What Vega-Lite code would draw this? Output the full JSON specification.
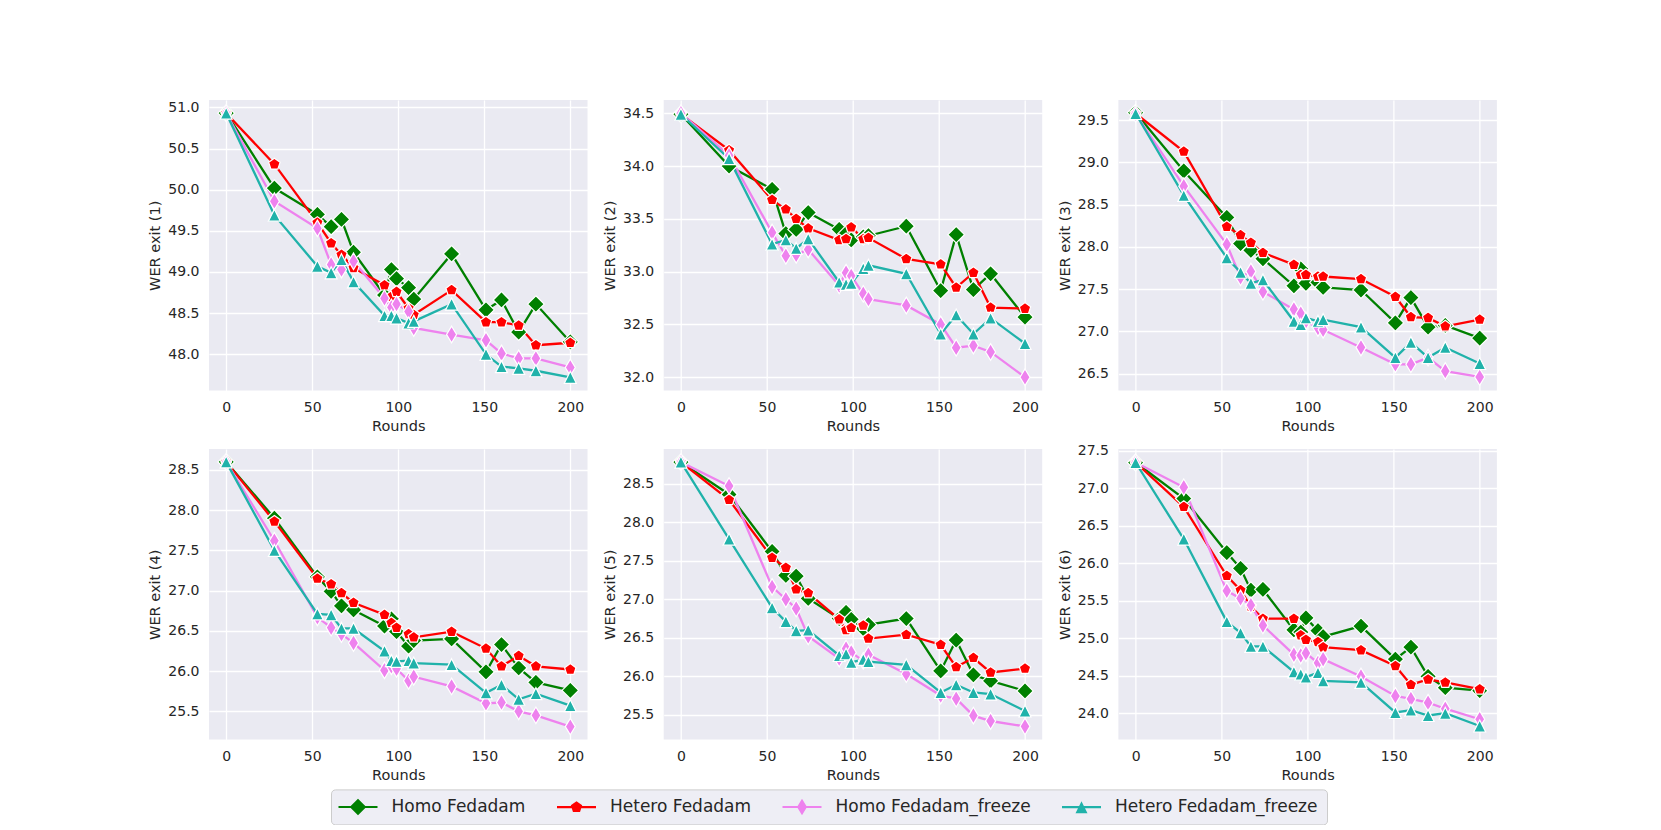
{
"$schema": "https://vega.github.io/schema/vega-lite/v6.json",
"padding": {"left": 147, "top": 100, "right": 0, "bottom": 0},
"background": "white",
"datasets": {"d": [
{"exit":1,"series":"Homo Fedadam","round":0,"wer":50.93},{"exit":1,"series":"Homo Fedadam","round":28,"wer":50.02},{"exit":1,"series":"Homo Fedadam","round":53,"wer":49.70},{"exit":1,"series":"Homo Fedadam","round":61,"wer":49.55},{"exit":1,"series":"Homo Fedadam","round":67,"wer":49.64},{"exit":1,"series":"Homo Fedadam","round":74,"wer":49.24},{"exit":1,"series":"Homo Fedadam","round":92,"wer":48.72},{"exit":1,"series":"Homo Fedadam","round":96,"wer":49.03},{"exit":1,"series":"Homo Fedadam","round":99,"wer":48.92},{"exit":1,"series":"Homo Fedadam","round":106,"wer":48.81},{"exit":1,"series":"Homo Fedadam","round":109,"wer":48.67},{"exit":1,"series":"Homo Fedadam","round":131,"wer":49.22},{"exit":1,"series":"Homo Fedadam","round":151,"wer":48.54},{"exit":1,"series":"Homo Fedadam","round":160,"wer":48.66},{"exit":1,"series":"Homo Fedadam","round":170,"wer":48.27},{"exit":1,"series":"Homo Fedadam","round":180,"wer":48.61},{"exit":1,"series":"Homo Fedadam","round":200,"wer":48.15},
{"exit":1,"series":"Hetero Fedadam","round":0,"wer":50.93},{"exit":1,"series":"Hetero Fedadam","round":28,"wer":50.31},{"exit":1,"series":"Hetero Fedadam","round":53,"wer":49.60},{"exit":1,"series":"Hetero Fedadam","round":61,"wer":49.35},{"exit":1,"series":"Hetero Fedadam","round":67,"wer":49.21},{"exit":1,"series":"Hetero Fedadam","round":74,"wer":49.05},{"exit":1,"series":"Hetero Fedadam","round":92,"wer":48.84},{"exit":1,"series":"Hetero Fedadam","round":96,"wer":48.70},{"exit":1,"series":"Hetero Fedadam","round":99,"wer":48.76},{"exit":1,"series":"Hetero Fedadam","round":106,"wer":48.56},{"exit":1,"series":"Hetero Fedadam","round":109,"wer":48.48},{"exit":1,"series":"Hetero Fedadam","round":131,"wer":48.78},{"exit":1,"series":"Hetero Fedadam","round":151,"wer":48.39},{"exit":1,"series":"Hetero Fedadam","round":160,"wer":48.39},{"exit":1,"series":"Hetero Fedadam","round":170,"wer":48.35},{"exit":1,"series":"Hetero Fedadam","round":180,"wer":48.11},{"exit":1,"series":"Hetero Fedadam","round":200,"wer":48.14},
{"exit":1,"series":"Homo Fedadam_freeze","round":0,"wer":50.93},{"exit":1,"series":"Homo Fedadam_freeze","round":28,"wer":49.86},{"exit":1,"series":"Homo Fedadam_freeze","round":53,"wer":49.53},{"exit":1,"series":"Homo Fedadam_freeze","round":61,"wer":49.09},{"exit":1,"series":"Homo Fedadam_freeze","round":67,"wer":49.03},{"exit":1,"series":"Homo Fedadam_freeze","round":74,"wer":49.13},{"exit":1,"series":"Homo Fedadam_freeze","round":92,"wer":48.68},{"exit":1,"series":"Homo Fedadam_freeze","round":96,"wer":48.57},{"exit":1,"series":"Homo Fedadam_freeze","round":99,"wer":48.61},{"exit":1,"series":"Homo Fedadam_freeze","round":106,"wer":48.52},{"exit":1,"series":"Homo Fedadam_freeze","round":109,"wer":48.32},{"exit":1,"series":"Homo Fedadam_freeze","round":131,"wer":48.24},{"exit":1,"series":"Homo Fedadam_freeze","round":151,"wer":48.17},{"exit":1,"series":"Homo Fedadam_freeze","round":160,"wer":48.01},{"exit":1,"series":"Homo Fedadam_freeze","round":170,"wer":47.95},{"exit":1,"series":"Homo Fedadam_freeze","round":180,"wer":47.95},{"exit":1,"series":"Homo Fedadam_freeze","round":200,"wer":47.84},
{"exit":1,"series":"Hetero Fedadam_freeze","round":0,"wer":50.93},{"exit":1,"series":"Hetero Fedadam_freeze","round":28,"wer":49.69},{"exit":1,"series":"Hetero Fedadam_freeze","round":53,"wer":49.07},{"exit":1,"series":"Hetero Fedadam_freeze","round":61,"wer":48.99},{"exit":1,"series":"Hetero Fedadam_freeze","round":67,"wer":49.15},{"exit":1,"series":"Hetero Fedadam_freeze","round":74,"wer":48.88},{"exit":1,"series":"Hetero Fedadam_freeze","round":92,"wer":48.47},{"exit":1,"series":"Hetero Fedadam_freeze","round":96,"wer":48.47},{"exit":1,"series":"Hetero Fedadam_freeze","round":99,"wer":48.44},{"exit":1,"series":"Hetero Fedadam_freeze","round":106,"wer":48.38},{"exit":1,"series":"Hetero Fedadam_freeze","round":109,"wer":48.40},{"exit":1,"series":"Hetero Fedadam_freeze","round":131,"wer":48.61},{"exit":1,"series":"Hetero Fedadam_freeze","round":151,"wer":48.00},{"exit":1,"series":"Hetero Fedadam_freeze","round":160,"wer":47.85},{"exit":1,"series":"Hetero Fedadam_freeze","round":170,"wer":47.83},{"exit":1,"series":"Hetero Fedadam_freeze","round":180,"wer":47.80},{"exit":1,"series":"Hetero Fedadam_freeze","round":200,"wer":47.72},

{"exit":2,"series":"Homo Fedadam","round":0,"wer":34.49},{"exit":2,"series":"Homo Fedadam","round":28,"wer":34.00},{"exit":2,"series":"Homo Fedadam","round":53,"wer":33.78},{"exit":2,"series":"Homo Fedadam","round":61,"wer":33.36},{"exit":2,"series":"Homo Fedadam","round":67,"wer":33.40},{"exit":2,"series":"Homo Fedadam","round":74,"wer":33.56},{"exit":2,"series":"Homo Fedadam","round":92,"wer":33.40},{"exit":2,"series":"Homo Fedadam","round":96,"wer":33.36},{"exit":2,"series":"Homo Fedadam","round":99,"wer":33.30},{"exit":2,"series":"Homo Fedadam","round":106,"wer":33.33},{"exit":2,"series":"Homo Fedadam","round":109,"wer":33.34},{"exit":2,"series":"Homo Fedadam","round":131,"wer":33.43},{"exit":2,"series":"Homo Fedadam","round":151,"wer":32.82},{"exit":2,"series":"Homo Fedadam","round":160,"wer":33.35},{"exit":2,"series":"Homo Fedadam","round":170,"wer":32.83},{"exit":2,"series":"Homo Fedadam","round":180,"wer":32.98},{"exit":2,"series":"Homo Fedadam","round":200,"wer":32.57},
{"exit":2,"series":"Hetero Fedadam","round":0,"wer":34.49},{"exit":2,"series":"Hetero Fedadam","round":28,"wer":34.15},{"exit":2,"series":"Hetero Fedadam","round":53,"wer":33.68},{"exit":2,"series":"Hetero Fedadam","round":61,"wer":33.59},{"exit":2,"series":"Hetero Fedadam","round":67,"wer":33.50},{"exit":2,"series":"Hetero Fedadam","round":74,"wer":33.41},{"exit":2,"series":"Hetero Fedadam","round":92,"wer":33.30},{"exit":2,"series":"Hetero Fedadam","round":96,"wer":33.31},{"exit":2,"series":"Hetero Fedadam","round":99,"wer":33.42},{"exit":2,"series":"Hetero Fedadam","round":106,"wer":33.31},{"exit":2,"series":"Hetero Fedadam","round":109,"wer":33.32},{"exit":2,"series":"Hetero Fedadam","round":131,"wer":33.12},{"exit":2,"series":"Hetero Fedadam","round":151,"wer":33.07},{"exit":2,"series":"Hetero Fedadam","round":160,"wer":32.85},{"exit":2,"series":"Hetero Fedadam","round":170,"wer":32.99},{"exit":2,"series":"Hetero Fedadam","round":180,"wer":32.66},{"exit":2,"series":"Hetero Fedadam","round":200,"wer":32.65},
{"exit":2,"series":"Homo Fedadam_freeze","round":0,"wer":34.50},{"exit":2,"series":"Homo Fedadam_freeze","round":28,"wer":34.10},{"exit":2,"series":"Homo Fedadam_freeze","round":53,"wer":33.37},{"exit":2,"series":"Homo Fedadam_freeze","round":61,"wer":33.15},{"exit":2,"series":"Homo Fedadam_freeze","round":67,"wer":33.16},{"exit":2,"series":"Homo Fedadam_freeze","round":74,"wer":33.21},{"exit":2,"series":"Homo Fedadam_freeze","round":92,"wer":32.87},{"exit":2,"series":"Homo Fedadam_freeze","round":96,"wer":32.99},{"exit":2,"series":"Homo Fedadam_freeze","round":99,"wer":32.96},{"exit":2,"series":"Homo Fedadam_freeze","round":106,"wer":32.79},{"exit":2,"series":"Homo Fedadam_freeze","round":109,"wer":32.74},{"exit":2,"series":"Homo Fedadam_freeze","round":131,"wer":32.68},{"exit":2,"series":"Homo Fedadam_freeze","round":151,"wer":32.50},{"exit":2,"series":"Homo Fedadam_freeze","round":160,"wer":32.28},{"exit":2,"series":"Homo Fedadam_freeze","round":170,"wer":32.30},{"exit":2,"series":"Homo Fedadam_freeze","round":180,"wer":32.24},{"exit":2,"series":"Homo Fedadam_freeze","round":200,"wer":32.00},
{"exit":2,"series":"Hetero Fedadam_freeze","round":0,"wer":34.49},{"exit":2,"series":"Hetero Fedadam_freeze","round":28,"wer":34.07},{"exit":2,"series":"Hetero Fedadam_freeze","round":53,"wer":33.26},{"exit":2,"series":"Hetero Fedadam_freeze","round":61,"wer":33.30},{"exit":2,"series":"Hetero Fedadam_freeze","round":67,"wer":33.22},{"exit":2,"series":"Hetero Fedadam_freeze","round":74,"wer":33.31},{"exit":2,"series":"Hetero Fedadam_freeze","round":92,"wer":32.90},{"exit":2,"series":"Hetero Fedadam_freeze","round":96,"wer":32.88},{"exit":2,"series":"Hetero Fedadam_freeze","round":99,"wer":32.89},{"exit":2,"series":"Hetero Fedadam_freeze","round":106,"wer":33.03},{"exit":2,"series":"Hetero Fedadam_freeze","round":109,"wer":33.06},{"exit":2,"series":"Hetero Fedadam_freeze","round":131,"wer":32.98},{"exit":2,"series":"Hetero Fedadam_freeze","round":151,"wer":32.41},{"exit":2,"series":"Hetero Fedadam_freeze","round":160,"wer":32.59},{"exit":2,"series":"Hetero Fedadam_freeze","round":170,"wer":32.41},{"exit":2,"series":"Hetero Fedadam_freeze","round":180,"wer":32.56},{"exit":2,"series":"Hetero Fedadam_freeze","round":200,"wer":32.32},

{"exit":3,"series":"Homo Fedadam","round":0,"wer":29.59},{"exit":3,"series":"Homo Fedadam","round":28,"wer":28.90},{"exit":3,"series":"Homo Fedadam","round":53,"wer":28.35},{"exit":3,"series":"Homo Fedadam","round":61,"wer":28.04},{"exit":3,"series":"Homo Fedadam","round":67,"wer":27.96},{"exit":3,"series":"Homo Fedadam","round":74,"wer":27.86},{"exit":3,"series":"Homo Fedadam","round":92,"wer":27.54},{"exit":3,"series":"Homo Fedadam","round":96,"wer":27.74},{"exit":3,"series":"Homo Fedadam","round":99,"wer":27.57},{"exit":3,"series":"Homo Fedadam","round":106,"wer":27.58},{"exit":3,"series":"Homo Fedadam","round":109,"wer":27.52},{"exit":3,"series":"Homo Fedadam","round":131,"wer":27.49},{"exit":3,"series":"Homo Fedadam","round":151,"wer":27.10},{"exit":3,"series":"Homo Fedadam","round":160,"wer":27.40},{"exit":3,"series":"Homo Fedadam","round":170,"wer":27.05},{"exit":3,"series":"Homo Fedadam","round":180,"wer":27.07},{"exit":3,"series":"Homo Fedadam","round":200,"wer":26.92},
{"exit":3,"series":"Hetero Fedadam","round":0,"wer":29.58},{"exit":3,"series":"Hetero Fedadam","round":28,"wer":29.13},{"exit":3,"series":"Hetero Fedadam","round":53,"wer":28.24},{"exit":3,"series":"Hetero Fedadam","round":61,"wer":28.14},{"exit":3,"series":"Hetero Fedadam","round":67,"wer":28.05},{"exit":3,"series":"Hetero Fedadam","round":74,"wer":27.93},{"exit":3,"series":"Hetero Fedadam","round":92,"wer":27.79},{"exit":3,"series":"Hetero Fedadam","round":96,"wer":27.67},{"exit":3,"series":"Hetero Fedadam","round":99,"wer":27.67},{"exit":3,"series":"Hetero Fedadam","round":106,"wer":27.65},{"exit":3,"series":"Hetero Fedadam","round":109,"wer":27.65},{"exit":3,"series":"Hetero Fedadam","round":131,"wer":27.62},{"exit":3,"series":"Hetero Fedadam","round":151,"wer":27.41},{"exit":3,"series":"Hetero Fedadam","round":160,"wer":27.17},{"exit":3,"series":"Hetero Fedadam","round":170,"wer":27.16},{"exit":3,"series":"Hetero Fedadam","round":180,"wer":27.06},{"exit":3,"series":"Hetero Fedadam","round":200,"wer":27.14},
{"exit":3,"series":"Homo Fedadam_freeze","round":0,"wer":29.58},{"exit":3,"series":"Homo Fedadam_freeze","round":28,"wer":28.72},{"exit":3,"series":"Homo Fedadam_freeze","round":53,"wer":28.03},{"exit":3,"series":"Homo Fedadam_freeze","round":61,"wer":27.64},{"exit":3,"series":"Homo Fedadam_freeze","round":67,"wer":27.71},{"exit":3,"series":"Homo Fedadam_freeze","round":74,"wer":27.47},{"exit":3,"series":"Homo Fedadam_freeze","round":92,"wer":27.26},{"exit":3,"series":"Homo Fedadam_freeze","round":96,"wer":27.21},{"exit":3,"series":"Homo Fedadam_freeze","round":99,"wer":27.12},{"exit":3,"series":"Homo Fedadam_freeze","round":106,"wer":27.04},{"exit":3,"series":"Homo Fedadam_freeze","round":109,"wer":27.02},{"exit":3,"series":"Homo Fedadam_freeze","round":131,"wer":26.81},{"exit":3,"series":"Homo Fedadam_freeze","round":151,"wer":26.61},{"exit":3,"series":"Homo Fedadam_freeze","round":160,"wer":26.61},{"exit":3,"series":"Homo Fedadam_freeze","round":170,"wer":26.69},{"exit":3,"series":"Homo Fedadam_freeze","round":180,"wer":26.53},{"exit":3,"series":"Homo Fedadam_freeze","round":200,"wer":26.46},
{"exit":3,"series":"Hetero Fedadam_freeze","round":0,"wer":29.58},{"exit":3,"series":"Hetero Fedadam_freeze","round":28,"wer":28.61},{"exit":3,"series":"Hetero Fedadam_freeze","round":53,"wer":27.87},{"exit":3,"series":"Hetero Fedadam_freeze","round":61,"wer":27.70},{"exit":3,"series":"Hetero Fedadam_freeze","round":67,"wer":27.57},{"exit":3,"series":"Hetero Fedadam_freeze","round":74,"wer":27.61},{"exit":3,"series":"Hetero Fedadam_freeze","round":92,"wer":27.12},{"exit":3,"series":"Hetero Fedadam_freeze","round":96,"wer":27.08},{"exit":3,"series":"Hetero Fedadam_freeze","round":99,"wer":27.16},{"exit":3,"series":"Hetero Fedadam_freeze","round":106,"wer":27.12},{"exit":3,"series":"Hetero Fedadam_freeze","round":109,"wer":27.14},{"exit":3,"series":"Hetero Fedadam_freeze","round":131,"wer":27.05},{"exit":3,"series":"Hetero Fedadam_freeze","round":151,"wer":26.69},{"exit":3,"series":"Hetero Fedadam_freeze","round":160,"wer":26.87},{"exit":3,"series":"Hetero Fedadam_freeze","round":170,"wer":26.69},{"exit":3,"series":"Hetero Fedadam_freeze","round":180,"wer":26.81},{"exit":3,"series":"Hetero Fedadam_freeze","round":200,"wer":26.62},

{"exit":4,"series":"Homo Fedadam","round":0,"wer":28.60},{"exit":4,"series":"Homo Fedadam","round":28,"wer":27.90},{"exit":4,"series":"Homo Fedadam","round":53,"wer":27.17},{"exit":4,"series":"Homo Fedadam","round":61,"wer":26.99},{"exit":4,"series":"Homo Fedadam","round":67,"wer":26.81},{"exit":4,"series":"Homo Fedadam","round":74,"wer":26.76},{"exit":4,"series":"Homo Fedadam","round":92,"wer":26.56},{"exit":4,"series":"Homo Fedadam","round":96,"wer":26.65},{"exit":4,"series":"Homo Fedadam","round":99,"wer":26.49},{"exit":4,"series":"Homo Fedadam","round":106,"wer":26.31},{"exit":4,"series":"Homo Fedadam","round":109,"wer":26.38},{"exit":4,"series":"Homo Fedadam","round":131,"wer":26.40},{"exit":4,"series":"Homo Fedadam","round":151,"wer":25.99},{"exit":4,"series":"Homo Fedadam","round":160,"wer":26.33},{"exit":4,"series":"Homo Fedadam","round":170,"wer":26.04},{"exit":4,"series":"Homo Fedadam","round":180,"wer":25.86},{"exit":4,"series":"Homo Fedadam","round":200,"wer":25.76},
{"exit":4,"series":"Hetero Fedadam","round":0,"wer":28.60},{"exit":4,"series":"Hetero Fedadam","round":28,"wer":27.86},{"exit":4,"series":"Hetero Fedadam","round":53,"wer":27.15},{"exit":4,"series":"Hetero Fedadam","round":61,"wer":27.08},{"exit":4,"series":"Hetero Fedadam","round":67,"wer":26.97},{"exit":4,"series":"Hetero Fedadam","round":74,"wer":26.85},{"exit":4,"series":"Hetero Fedadam","round":92,"wer":26.70},{"exit":4,"series":"Hetero Fedadam","round":96,"wer":26.60},{"exit":4,"series":"Hetero Fedadam","round":99,"wer":26.54},{"exit":4,"series":"Hetero Fedadam","round":106,"wer":26.46},{"exit":4,"series":"Hetero Fedadam","round":109,"wer":26.42},{"exit":4,"series":"Hetero Fedadam","round":131,"wer":26.49},{"exit":4,"series":"Hetero Fedadam","round":151,"wer":26.28},{"exit":4,"series":"Hetero Fedadam","round":160,"wer":26.06},{"exit":4,"series":"Hetero Fedadam","round":170,"wer":26.19},{"exit":4,"series":"Hetero Fedadam","round":180,"wer":26.06},{"exit":4,"series":"Hetero Fedadam","round":200,"wer":26.02},
{"exit":4,"series":"Homo Fedadam_freeze","round":0,"wer":28.60},{"exit":4,"series":"Homo Fedadam_freeze","round":28,"wer":27.62},{"exit":4,"series":"Homo Fedadam_freeze","round":53,"wer":26.67},{"exit":4,"series":"Homo Fedadam_freeze","round":61,"wer":26.54},{"exit":4,"series":"Homo Fedadam_freeze","round":67,"wer":26.46},{"exit":4,"series":"Homo Fedadam_freeze","round":74,"wer":26.35},{"exit":4,"series":"Homo Fedadam_freeze","round":92,"wer":26.01},{"exit":4,"series":"Homo Fedadam_freeze","round":96,"wer":26.06},{"exit":4,"series":"Homo Fedadam_freeze","round":99,"wer":26.03},{"exit":4,"series":"Homo Fedadam_freeze","round":106,"wer":25.88},{"exit":4,"series":"Homo Fedadam_freeze","round":109,"wer":25.93},{"exit":4,"series":"Homo Fedadam_freeze","round":131,"wer":25.81},{"exit":4,"series":"Homo Fedadam_freeze","round":151,"wer":25.60},{"exit":4,"series":"Homo Fedadam_freeze","round":160,"wer":25.61},{"exit":4,"series":"Homo Fedadam_freeze","round":170,"wer":25.50},{"exit":4,"series":"Homo Fedadam_freeze","round":180,"wer":25.45},{"exit":4,"series":"Homo Fedadam_freeze","round":200,"wer":25.31},
{"exit":4,"series":"Hetero Fedadam_freeze","round":0,"wer":28.60},{"exit":4,"series":"Hetero Fedadam_freeze","round":28,"wer":27.50},{"exit":4,"series":"Hetero Fedadam_freeze","round":53,"wer":26.71},{"exit":4,"series":"Hetero Fedadam_freeze","round":61,"wer":26.70},{"exit":4,"series":"Hetero Fedadam_freeze","round":67,"wer":26.53},{"exit":4,"series":"Hetero Fedadam_freeze","round":74,"wer":26.53},{"exit":4,"series":"Hetero Fedadam_freeze","round":92,"wer":26.25},{"exit":4,"series":"Hetero Fedadam_freeze","round":96,"wer":26.13},{"exit":4,"series":"Hetero Fedadam_freeze","round":99,"wer":26.12},{"exit":4,"series":"Hetero Fedadam_freeze","round":106,"wer":26.13},{"exit":4,"series":"Hetero Fedadam_freeze","round":109,"wer":26.10},{"exit":4,"series":"Hetero Fedadam_freeze","round":131,"wer":26.08},{"exit":4,"series":"Hetero Fedadam_freeze","round":151,"wer":25.73},{"exit":4,"series":"Hetero Fedadam_freeze","round":160,"wer":25.83},{"exit":4,"series":"Hetero Fedadam_freeze","round":170,"wer":25.65},{"exit":4,"series":"Hetero Fedadam_freeze","round":180,"wer":25.72},{"exit":4,"series":"Hetero Fedadam_freeze","round":200,"wer":25.57},

{"exit":5,"series":"Homo Fedadam","round":0,"wer":28.78},{"exit":5,"series":"Homo Fedadam","round":28,"wer":28.36},{"exit":5,"series":"Homo Fedadam","round":53,"wer":27.62},{"exit":5,"series":"Homo Fedadam","round":61,"wer":27.31},{"exit":5,"series":"Homo Fedadam","round":67,"wer":27.30},{"exit":5,"series":"Homo Fedadam","round":74,"wer":27.01},{"exit":5,"series":"Homo Fedadam","round":92,"wer":26.75},{"exit":5,"series":"Homo Fedadam","round":96,"wer":26.83},{"exit":5,"series":"Homo Fedadam","round":99,"wer":26.74},{"exit":5,"series":"Homo Fedadam","round":106,"wer":26.62},{"exit":5,"series":"Homo Fedadam","round":109,"wer":26.67},{"exit":5,"series":"Homo Fedadam","round":131,"wer":26.75},{"exit":5,"series":"Homo Fedadam","round":151,"wer":26.07},{"exit":5,"series":"Homo Fedadam","round":160,"wer":26.47},{"exit":5,"series":"Homo Fedadam","round":170,"wer":26.02},{"exit":5,"series":"Homo Fedadam","round":180,"wer":25.94},{"exit":5,"series":"Homo Fedadam","round":200,"wer":25.81},
{"exit":5,"series":"Hetero Fedadam","round":0,"wer":28.78},{"exit":5,"series":"Hetero Fedadam","round":28,"wer":28.29},{"exit":5,"series":"Hetero Fedadam","round":53,"wer":27.54},{"exit":5,"series":"Hetero Fedadam","round":61,"wer":27.41},{"exit":5,"series":"Hetero Fedadam","round":67,"wer":27.13},{"exit":5,"series":"Hetero Fedadam","round":74,"wer":27.08},{"exit":5,"series":"Hetero Fedadam","round":92,"wer":26.74},{"exit":5,"series":"Hetero Fedadam","round":96,"wer":26.60},{"exit":5,"series":"Hetero Fedadam","round":99,"wer":26.63},{"exit":5,"series":"Hetero Fedadam","round":106,"wer":26.66},{"exit":5,"series":"Hetero Fedadam","round":109,"wer":26.49},{"exit":5,"series":"Hetero Fedadam","round":131,"wer":26.54},{"exit":5,"series":"Hetero Fedadam","round":151,"wer":26.41},{"exit":5,"series":"Hetero Fedadam","round":160,"wer":26.12},{"exit":5,"series":"Hetero Fedadam","round":170,"wer":26.24},{"exit":5,"series":"Hetero Fedadam","round":180,"wer":26.05},{"exit":5,"series":"Hetero Fedadam","round":200,"wer":26.10},
{"exit":5,"series":"Homo Fedadam_freeze","round":0,"wer":28.78},{"exit":5,"series":"Homo Fedadam_freeze","round":28,"wer":28.47},{"exit":5,"series":"Homo Fedadam_freeze","round":53,"wer":27.16},{"exit":5,"series":"Homo Fedadam_freeze","round":61,"wer":27.00},{"exit":5,"series":"Homo Fedadam_freeze","round":67,"wer":26.88},{"exit":5,"series":"Homo Fedadam_freeze","round":74,"wer":26.52},{"exit":5,"series":"Homo Fedadam_freeze","round":92,"wer":26.23},{"exit":5,"series":"Homo Fedadam_freeze","round":96,"wer":26.36},{"exit":5,"series":"Homo Fedadam_freeze","round":99,"wer":26.31},{"exit":5,"series":"Homo Fedadam_freeze","round":106,"wer":26.20},{"exit":5,"series":"Homo Fedadam_freeze","round":109,"wer":26.28},{"exit":5,"series":"Homo Fedadam_freeze","round":131,"wer":26.03},{"exit":5,"series":"Homo Fedadam_freeze","round":151,"wer":25.75},{"exit":5,"series":"Homo Fedadam_freeze","round":160,"wer":25.71},{"exit":5,"series":"Homo Fedadam_freeze","round":170,"wer":25.49},{"exit":5,"series":"Homo Fedadam_freeze","round":180,"wer":25.42},{"exit":5,"series":"Homo Fedadam_freeze","round":200,"wer":25.35},
{"exit":5,"series":"Hetero Fedadam_freeze","round":0,"wer":28.78},{"exit":5,"series":"Hetero Fedadam_freeze","round":28,"wer":27.78},{"exit":5,"series":"Hetero Fedadam_freeze","round":53,"wer":26.89},{"exit":5,"series":"Hetero Fedadam_freeze","round":61,"wer":26.71},{"exit":5,"series":"Hetero Fedadam_freeze","round":67,"wer":26.59},{"exit":5,"series":"Hetero Fedadam_freeze","round":74,"wer":26.60},{"exit":5,"series":"Hetero Fedadam_freeze","round":92,"wer":26.27},{"exit":5,"series":"Hetero Fedadam_freeze","round":96,"wer":26.29},{"exit":5,"series":"Hetero Fedadam_freeze","round":99,"wer":26.18},{"exit":5,"series":"Hetero Fedadam_freeze","round":106,"wer":26.22},{"exit":5,"series":"Hetero Fedadam_freeze","round":109,"wer":26.19},{"exit":5,"series":"Hetero Fedadam_freeze","round":131,"wer":26.15},{"exit":5,"series":"Hetero Fedadam_freeze","round":151,"wer":25.79},{"exit":5,"series":"Hetero Fedadam_freeze","round":160,"wer":25.89},{"exit":5,"series":"Hetero Fedadam_freeze","round":170,"wer":25.79},{"exit":5,"series":"Hetero Fedadam_freeze","round":180,"wer":25.77},{"exit":5,"series":"Hetero Fedadam_freeze","round":200,"wer":25.55},

{"exit":6,"series":"Homo Fedadam","round":0,"wer":27.34},{"exit":6,"series":"Homo Fedadam","round":28,"wer":26.86},{"exit":6,"series":"Homo Fedadam","round":53,"wer":26.14},{"exit":6,"series":"Homo Fedadam","round":61,"wer":25.93},{"exit":6,"series":"Homo Fedadam","round":67,"wer":25.64},{"exit":6,"series":"Homo Fedadam","round":74,"wer":25.65},{"exit":6,"series":"Homo Fedadam","round":92,"wer":25.11},{"exit":6,"series":"Homo Fedadam","round":96,"wer":25.08},{"exit":6,"series":"Homo Fedadam","round":99,"wer":25.27},{"exit":6,"series":"Homo Fedadam","round":106,"wer":25.10},{"exit":6,"series":"Homo Fedadam","round":109,"wer":25.02},{"exit":6,"series":"Homo Fedadam","round":131,"wer":25.16},{"exit":6,"series":"Homo Fedadam","round":151,"wer":24.72},{"exit":6,"series":"Homo Fedadam","round":160,"wer":24.88},{"exit":6,"series":"Homo Fedadam","round":170,"wer":24.49},{"exit":6,"series":"Homo Fedadam","round":180,"wer":24.34},{"exit":6,"series":"Homo Fedadam","round":200,"wer":24.30},
{"exit":6,"series":"Hetero Fedadam","round":0,"wer":27.34},{"exit":6,"series":"Hetero Fedadam","round":28,"wer":26.75},{"exit":6,"series":"Hetero Fedadam","round":53,"wer":25.83},{"exit":6,"series":"Hetero Fedadam","round":61,"wer":25.64},{"exit":6,"series":"Hetero Fedadam","round":67,"wer":25.42},{"exit":6,"series":"Hetero Fedadam","round":74,"wer":25.26},{"exit":6,"series":"Hetero Fedadam","round":92,"wer":25.26},{"exit":6,"series":"Hetero Fedadam","round":96,"wer":25.04},{"exit":6,"series":"Hetero Fedadam","round":99,"wer":24.98},{"exit":6,"series":"Hetero Fedadam","round":106,"wer":24.95},{"exit":6,"series":"Hetero Fedadam","round":109,"wer":24.88},{"exit":6,"series":"Hetero Fedadam","round":131,"wer":24.84},{"exit":6,"series":"Hetero Fedadam","round":151,"wer":24.63},{"exit":6,"series":"Hetero Fedadam","round":160,"wer":24.38},{"exit":6,"series":"Hetero Fedadam","round":170,"wer":24.45},{"exit":6,"series":"Hetero Fedadam","round":180,"wer":24.41},{"exit":6,"series":"Hetero Fedadam","round":200,"wer":24.32},
{"exit":6,"series":"Homo Fedadam_freeze","round":0,"wer":27.34},{"exit":6,"series":"Homo Fedadam_freeze","round":28,"wer":27.01},{"exit":6,"series":"Homo Fedadam_freeze","round":53,"wer":25.63},{"exit":6,"series":"Homo Fedadam_freeze","round":61,"wer":25.53},{"exit":6,"series":"Homo Fedadam_freeze","round":67,"wer":25.44},{"exit":6,"series":"Homo Fedadam_freeze","round":74,"wer":25.17},{"exit":6,"series":"Homo Fedadam_freeze","round":92,"wer":24.78},{"exit":6,"series":"Homo Fedadam_freeze","round":96,"wer":24.77},{"exit":6,"series":"Homo Fedadam_freeze","round":99,"wer":24.80},{"exit":6,"series":"Homo Fedadam_freeze","round":106,"wer":24.67},{"exit":6,"series":"Homo Fedadam_freeze","round":109,"wer":24.72},{"exit":6,"series":"Homo Fedadam_freeze","round":131,"wer":24.49},{"exit":6,"series":"Homo Fedadam_freeze","round":151,"wer":24.23},{"exit":6,"series":"Homo Fedadam_freeze","round":160,"wer":24.19},{"exit":6,"series":"Homo Fedadam_freeze","round":170,"wer":24.14},{"exit":6,"series":"Homo Fedadam_freeze","round":180,"wer":24.06},{"exit":6,"series":"Homo Fedadam_freeze","round":200,"wer":23.92},
{"exit":6,"series":"Hetero Fedadam_freeze","round":0,"wer":27.34},{"exit":6,"series":"Hetero Fedadam_freeze","round":28,"wer":26.32},{"exit":6,"series":"Hetero Fedadam_freeze","round":53,"wer":25.22},{"exit":6,"series":"Hetero Fedadam_freeze","round":61,"wer":25.07},{"exit":6,"series":"Hetero Fedadam_freeze","round":67,"wer":24.89},{"exit":6,"series":"Hetero Fedadam_freeze","round":74,"wer":24.89},{"exit":6,"series":"Hetero Fedadam_freeze","round":92,"wer":24.55},{"exit":6,"series":"Hetero Fedadam_freeze","round":96,"wer":24.52},{"exit":6,"series":"Hetero Fedadam_freeze","round":99,"wer":24.48},{"exit":6,"series":"Hetero Fedadam_freeze","round":106,"wer":24.54},{"exit":6,"series":"Hetero Fedadam_freeze","round":109,"wer":24.43},{"exit":6,"series":"Hetero Fedadam_freeze","round":131,"wer":24.41},{"exit":6,"series":"Hetero Fedadam_freeze","round":151,"wer":24.01},{"exit":6,"series":"Hetero Fedadam_freeze","round":160,"wer":24.04},{"exit":6,"series":"Hetero Fedadam_freeze","round":170,"wer":23.97},{"exit":6,"series":"Hetero Fedadam_freeze","round":180,"wer":24.00},{"exit":6,"series":"Hetero Fedadam_freeze","round":200,"wer":23.83}
]},
"data": {"name": "d"},
"columns": 3,
"bounds": "flush",
"spacing": {"row": 58, "column": 75.7},
"resolve": {"scale": {"x": "independent", "y": "independent", "color": "shared", "shape": "shared"}},
"concat": [
{"width": 378.5, "height": 290.5, "transform": [{"filter": "datum.exit === 1"}],
 "encoding": {
  "x": {"field": "round", "type": "quantitative", "scale": {"domain": [-10, 210], "nice": false, "zero": false}, "axis": {"values": [0, 50, 100, 150, 200], "format": "d", "title": "Rounds"}},
  "y": {"field": "wer", "type": "quantitative", "scale": {"domain": [47.56, 51.09], "nice": false, "zero": false}, "axis": {"values": [48, 48.5, 49, 49.5, 50, 50.5, 51], "format": ".1f", "title": "WER exit (1)"}},
  "color": {"field": "series", "type": "nominal", "title": null, "scale": {"domain": ["Homo Fedadam", "Hetero Fedadam", "Homo Fedadam_freeze", "Hetero Fedadam_freeze"], "range": ["#008000", "#ff0000", "#ee82ee", "#20b2aa"]},
   "legend": {"orient": "none", "legendX": 122, "legendY": 689.4, "direction": "horizontal", "padding": 9, "columnPadding": 30.5, "labelOffset": 25, "symbolOffset": 9.5, "symbolSize": 4, "symbolStrokeWidth": 0,
    "encode": {"symbols": {"update": {"shape": {"signal": "datum.value === 'Homo Fedadam' ? 'M-19.5,-1.1H19.5V1.1H-19.5Z M0,-8.3L8.3,0L0,8.3L-8.3,0Z' : datum.value === 'Hetero Fedadam' ? 'M-19.5,-1.1H19.5V1.1H-19.5Z M0,-6L5.71,-1.85L3.53,4.85L-3.53,4.85L-5.71,-1.85Z' : datum.value === 'Homo Fedadam_freeze' ? 'M-19.5,-1.1H19.5V1.1H-19.5Z M0,-8.3L5,0L0,8.3L-5,0Z' : 'M-19.5,-1.1H19.5V1.1H-19.5Z M0,-6L6,6L-6,6Z'"}, "strokeWidth": {"value": 0}, "size": {"value": 4}, "opacity": {"value": 1}}}}}}
 },
 "layer": [
  {"mark": {"type": "line", "strokeWidth": 2.3}},
  {"mark": {"type": "point", "filled": true, "opacity": 1, "size": 4, "stroke": "white", "strokeWidth": 1.2},
   "encoding": {"shape": {"field": "series", "type": "nominal", "legend": null, "scale": {"domain": ["Hetero Fedadam", "Homo Fedadam", "Hetero Fedadam_freeze", "Homo Fedadam_freeze"], "range": ["M0,-6L5.71,-1.85L3.53,4.85L-3.53,4.85L-5.71,-1.85Z", "M0,-8.3L8.3,0L0,8.3L-8.3,0Z", "M0,-6L6,6L-6,6Z", "M0,-8.3L5,0L0,8.3L-5,0Z"]}}}}
 ]},
{"width": 378.5, "height": 290.5, "transform": [{"filter": "datum.exit === 2"}],
 "encoding": {
  "x": {"field": "round", "type": "quantitative", "scale": {"domain": [-10, 210], "nice": false, "zero": false}, "axis": {"values": [0, 50, 100, 150, 200], "format": "d", "title": "Rounds"}},
  "y": {"field": "wer", "type": "quantitative", "scale": {"domain": [31.875, 34.625], "nice": false, "zero": false}, "axis": {"values": [32, 32.5, 33, 33.5, 34, 34.5], "format": ".1f", "title": "WER exit (2)"}},
  "color": {"field": "series", "type": "nominal", "title": null, "legend": null, "scale": {"domain": ["Homo Fedadam", "Hetero Fedadam", "Homo Fedadam_freeze", "Hetero Fedadam_freeze"], "range": ["#008000", "#ff0000", "#ee82ee", "#20b2aa"]}}
 },
 "layer": [
  {"mark": {"type": "line", "strokeWidth": 2.3}},
  {"mark": {"type": "point", "filled": true, "opacity": 1, "size": 4, "stroke": "white", "strokeWidth": 1.2},
   "encoding": {"shape": {"field": "series", "type": "nominal", "legend": null, "scale": {"domain": ["Hetero Fedadam", "Homo Fedadam", "Hetero Fedadam_freeze", "Homo Fedadam_freeze"], "range": ["M0,-6L5.71,-1.85L3.53,4.85L-3.53,4.85L-5.71,-1.85Z", "M0,-8.3L8.3,0L0,8.3L-8.3,0Z", "M0,-6L6,6L-6,6Z", "M0,-8.3L5,0L0,8.3L-5,0Z"]}}}}
 ]},
{"width": 378.5, "height": 290.5, "transform": [{"filter": "datum.exit === 3"}],
 "encoding": {
  "x": {"field": "round", "type": "quantitative", "scale": {"domain": [-10, 210], "nice": false, "zero": false}, "axis": {"values": [0, 50, 100, 150, 200], "format": "d", "title": "Rounds"}},
  "y": {"field": "wer", "type": "quantitative", "scale": {"domain": [26.30, 29.74], "nice": false, "zero": false}, "axis": {"values": [26.5, 27, 27.5, 28, 28.5, 29, 29.5], "format": ".1f", "title": "WER exit (3)"}},
  "color": {"field": "series", "type": "nominal", "title": null, "legend": null, "scale": {"domain": ["Homo Fedadam", "Hetero Fedadam", "Homo Fedadam_freeze", "Hetero Fedadam_freeze"], "range": ["#008000", "#ff0000", "#ee82ee", "#20b2aa"]}}
 },
 "layer": [
  {"mark": {"type": "line", "strokeWidth": 2.3}},
  {"mark": {"type": "point", "filled": true, "opacity": 1, "size": 4, "stroke": "white", "strokeWidth": 1.2},
   "encoding": {"shape": {"field": "series", "type": "nominal", "legend": null, "scale": {"domain": ["Hetero Fedadam", "Homo Fedadam", "Hetero Fedadam_freeze", "Homo Fedadam_freeze"], "range": ["M0,-6L5.71,-1.85L3.53,4.85L-3.53,4.85L-5.71,-1.85Z", "M0,-8.3L8.3,0L0,8.3L-8.3,0Z", "M0,-6L6,6L-6,6Z", "M0,-8.3L5,0L0,8.3L-5,0Z"]}}}}
 ]},
{"width": 378.5, "height": 290.5, "transform": [{"filter": "datum.exit === 4"}],
 "encoding": {
  "x": {"field": "round", "type": "quantitative", "scale": {"domain": [-10, 210], "nice": false, "zero": false}, "axis": {"values": [0, 50, 100, 150, 200], "format": "d", "title": "Rounds"}},
  "y": {"field": "wer", "type": "quantitative", "scale": {"domain": [25.15, 28.76], "nice": false, "zero": false}, "axis": {"values": [25.5, 26, 26.5, 27, 27.5, 28, 28.5], "format": ".1f", "title": "WER exit (4)"}},
  "color": {"field": "series", "type": "nominal", "title": null, "legend": null, "scale": {"domain": ["Homo Fedadam", "Hetero Fedadam", "Homo Fedadam_freeze", "Hetero Fedadam_freeze"], "range": ["#008000", "#ff0000", "#ee82ee", "#20b2aa"]}}
 },
 "layer": [
  {"mark": {"type": "line", "strokeWidth": 2.3}},
  {"mark": {"type": "point", "filled": true, "opacity": 1, "size": 4, "stroke": "white", "strokeWidth": 1.2},
   "encoding": {"shape": {"field": "series", "type": "nominal", "legend": null, "scale": {"domain": ["Hetero Fedadam", "Homo Fedadam", "Hetero Fedadam_freeze", "Homo Fedadam_freeze"], "range": ["M0,-6L5.71,-1.85L3.53,4.85L-3.53,4.85L-5.71,-1.85Z", "M0,-8.3L8.3,0L0,8.3L-8.3,0Z", "M0,-6L6,6L-6,6Z", "M0,-8.3L5,0L0,8.3L-5,0Z"]}}}}
 ]},
{"width": 378.5, "height": 290.5, "transform": [{"filter": "datum.exit === 5"}],
 "encoding": {
  "x": {"field": "round", "type": "quantitative", "scale": {"domain": [-10, 210], "nice": false, "zero": false}, "axis": {"values": [0, 50, 100, 150, 200], "format": "d", "title": "Rounds"}},
  "y": {"field": "wer", "type": "quantitative", "scale": {"domain": [25.18, 28.95], "nice": false, "zero": false}, "axis": {"values": [25.5, 26, 26.5, 27, 27.5, 28, 28.5], "format": ".1f", "title": "WER exit (5)"}},
  "color": {"field": "series", "type": "nominal", "title": null, "legend": null, "scale": {"domain": ["Homo Fedadam", "Hetero Fedadam", "Homo Fedadam_freeze", "Hetero Fedadam_freeze"], "range": ["#008000", "#ff0000", "#ee82ee", "#20b2aa"]}}
 },
 "layer": [
  {"mark": {"type": "line", "strokeWidth": 2.3}},
  {"mark": {"type": "point", "filled": true, "opacity": 1, "size": 4, "stroke": "white", "strokeWidth": 1.2},
   "encoding": {"shape": {"field": "series", "type": "nominal", "legend": null, "scale": {"domain": ["Hetero Fedadam", "Homo Fedadam", "Hetero Fedadam_freeze", "Homo Fedadam_freeze"], "range": ["M0,-6L5.71,-1.85L3.53,4.85L-3.53,4.85L-5.71,-1.85Z", "M0,-8.3L8.3,0L0,8.3L-8.3,0Z", "M0,-6L6,6L-6,6Z", "M0,-8.3L5,0L0,8.3L-5,0Z"]}}}}
 ]},
{"width": 378.5, "height": 290.5, "transform": [{"filter": "datum.exit === 6"}],
 "encoding": {
  "x": {"field": "round", "type": "quantitative", "scale": {"domain": [-10, 210], "nice": false, "zero": false}, "axis": {"values": [0, 50, 100, 150, 200], "format": "d", "title": "Rounds"}},
  "y": {"field": "wer", "type": "quantitative", "scale": {"domain": [23.65, 27.52], "nice": false, "zero": false}, "axis": {"values": [24, 24.5, 25, 25.5, 26, 26.5, 27, 27.5], "format": ".1f", "title": "WER exit (6)"}},
  "color": {"field": "series", "type": "nominal", "title": null, "legend": null, "scale": {"domain": ["Homo Fedadam", "Hetero Fedadam", "Homo Fedadam_freeze", "Hetero Fedadam_freeze"], "range": ["#008000", "#ff0000", "#ee82ee", "#20b2aa"]}}
 },
 "layer": [
  {"mark": {"type": "line", "strokeWidth": 2.3}},
  {"mark": {"type": "point", "filled": true, "opacity": 1, "size": 4, "stroke": "white", "strokeWidth": 1.2},
   "encoding": {"shape": {"field": "series", "type": "nominal", "legend": null, "scale": {"domain": ["Hetero Fedadam", "Homo Fedadam", "Hetero Fedadam_freeze", "Homo Fedadam_freeze"], "range": ["M0,-6L5.71,-1.85L3.53,4.85L-3.53,4.85L-5.71,-1.85Z", "M0,-8.3L8.3,0L0,8.3L-8.3,0Z", "M0,-6L6,6L-6,6Z", "M0,-8.3L5,0L0,8.3L-5,0Z"]}}}}
 ]}
],
"config": {
 "font": "DejaVu Sans",
 "view": {"fill": "#eaeaf2", "stroke": null},
 "axis": {"domain": false, "ticks": false, "grid": true, "gridColor": "#ffffff", "gridWidth": 1.3, "gridOpacity": 1, "labelFont": "DejaVu Sans", "labelFontSize": 14, "labelColor": "#262626", "labelPadding": 10, "labelFlush": false, "titleFont": "DejaVu Sans", "titleFontSize": 14.5, "titleFontWeight": "normal", "titleColor": "#262626", "titlePadding": 5, "zindex": 0},
 "legend": {"labelFont": "DejaVu Sans", "labelFontSize": 17, "labelColor": "#262626", "labelLimit": 400, "fillColor": "#eeeef5", "strokeColor": "#cccccc", "cornerRadius": 4}
}
}
